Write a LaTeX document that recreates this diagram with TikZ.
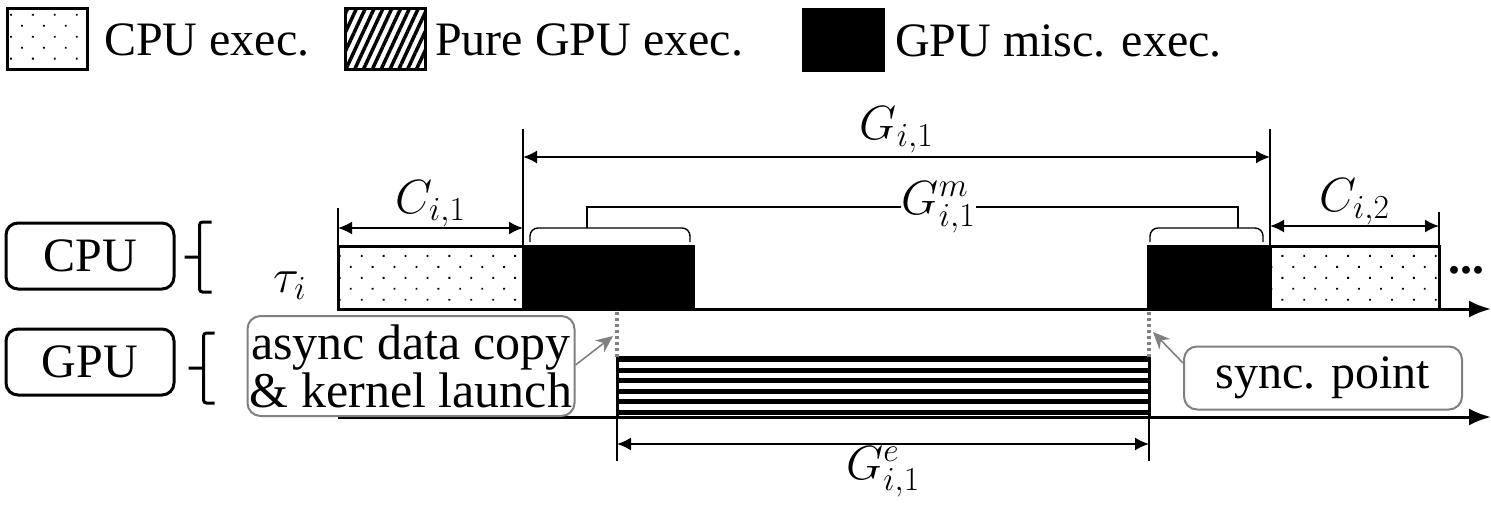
\RequirePackage{fix-cm}
\documentclass[tikz,border=0pt]{standalone}
\usepackage{fontspec}
\setmainfont{Liberation Serif}
\usetikzlibrary{positioning,arrows.meta,patterns.meta}
\newcommand{\bigfont}{\fontsize{48}{48}\selectfont}
\tikzset{
  blk/.style={draw=black, line width=3pt, inner sep=0pt, outer sep=0pt, minimum height=63pt},
  cpublk/.style={blk, pattern={Dots[distance=15.5pt, angle=45, radius=1.3pt]}},
  miscblk/.style={blk, fill=black},
  pureblk/.style={blk, pattern={Lines[angle=65, distance=8pt, line width=3.5pt]}},
  barblk/.style={blk, fill=white},
  lane/.style={draw=black, line width=3pt, rounded corners=12pt, minimum width=168pt,
    minimum height=66pt, inner sep=0pt, font=\bigfont},
  note/.style={draw=gray, line width=2pt, rounded corners=13pt, fill=white, align=center,
    inner sep=0pt},
  legtext/.style={anchor=west, font=\bigfont, inner sep=0pt},
  timeaxis/.style={-{Latex[length=22pt, width=17pt]}, line width=3pt},
  dim/.style={{Latex[length=14pt, width=13pt]}-{Latex[length=14pt, width=13pt]}, line width=1.8pt},
  tick/.style={line width=1.4pt},
  lbrace/.style={line width=3pt, rounded corners=3pt},
  mbrace/.style={line width=1.4pt, rounded corners=8pt},
  syncline/.style={draw=gray, line width=3.5pt, dash pattern=on 3pt off 3pt},
  pointer/.style={-{Stealth[length=17pt, width=15pt]}, draw=gray, line width=1.6pt},
  stripe/.style={line width=5pt},
}
\begin{document}
\begin{tikzpicture}[x=1pt, y=-1pt, font=\bigfont]
  \useasboundingbox (0,0) rectangle (1491,508);
  % legend
  \node[cpublk, minimum width=80pt, minimum height=61pt, anchor=north west] (lgcpu) at (7,9) {};
  \node[legtext, right=17pt of lgcpu] (lgcputxt) {CPU exec.};
  \node[pureblk, minimum width=80pt, minimum height=61pt, anchor=north west] (lgpure) at (345,9) {};
  \node[legtext, right=10pt of lgpure] (lgpuretxt) {Pure GPU exec.};
  \node[miscblk, minimum width=80pt, minimum height=61pt, anchor=north west] (lgmisc) at (803,10) {};
  \node[legtext, right=12pt of lgmisc] (lgmisctxt) {GPU misc. exec.};

  % processors
  \node[lane] (cpu) at (90,256) {CPU};
  \node[lane] (gpu) at (90,362) {GPU};
  \draw[lbrace] (cpu.east) ++(9,1) -- ++(15,0) ++(12,-35) -- ++(-12,0) -- ++(0,70) -- ++(12,0);
  \draw[lbrace] (gpu.east) ++(13,6) -- ++(15,0) ++(11,-35) -- ++(-11,0) -- ++(0,70) -- ++(11,0);
  \node (tau) at (290,286) {$\tau_i$};

  % CPU timeline
  \node[cpublk, minimum width=185pt, anchor=south west] (c1) at (338,309) {};
  \node[miscblk, minimum width=170pt, anchor=south west] (m1) at (c1.south east) {};
  \node[miscblk, minimum width=122pt, anchor=south west] (m2) at (1148,309) {};
  \node[cpublk, minimum width=169pt, anchor=south west] (c2) at (m2.south east) {};
  \node[font=\bfseries\bigfont, inner sep=0pt] (more) at (1466,270) {...};
  \coordinate (cpuend) at (1491,309);
  \draw[timeaxis] (c1.south west) -- (cpuend);

  % GPU timeline
  \node[barblk, minimum width=532pt, minimum height=60pt, anchor=south west] (ge) at (617,417) {};
  \foreach \y in {359.5,370.1,...,414} \draw[stripe] (ge.west |- 0,\y) -- (ge.east |- 0,\y);
  \coordinate (gpustart) at (338,417);
  \coordinate (gpuend) at (1491,417);
  \draw[timeaxis] (gpustart) -- (gpuend);
  \draw[line width=3pt] (ge.south west) -- (ge.north west) -- (ge.north east) -- (ge.south east);

  % sync points
  \draw[syncline] (ge.north west) -- (ge.north west |- c1.south);
  \draw[syncline] (ge.north east) -- (ge.north east |- m2.south);
  \node[note, minimum width=327pt, minimum height=100pt, font=\fontsize{50}{48}\selectfont] (async) at (411,366)
    {async data copy\\\& kernel launch};
  \node[note, minimum width=278pt, minimum height=63pt] (syncpt) at (1323,378) {sync. point};
  \coordinate (asynctip) at (613,336);
  \coordinate (synctip) at (1153,332);
  \draw[pointer] (async.east) ++(0,-1) -- (asynctip);
  \draw[pointer] (syncpt.west) ++(0,-15) -- (synctip);

  % durations
  \draw[tick] (c1.north west) -- ++(0,-38);
  \draw[tick] (c1.north east) -- ++(0,-117);
  \draw[tick] (m2.north east) -- ++(0,-117);
  \draw[tick] (c2.north east) -- ++(0,-34);
  \draw[dim] (c1.north west |- 0,228) -- node[above=-3pt] (lc1) {$C_{i,1}$} (c1.north east |- 0,228);
  \draw[dim] (c2.north west |- 0,226) -- node[above=-3pt] (lc2) {$C_{i,2}$} (c2.north east |- 0,226);
  \draw[dim] (c1.north east |- 0,157) -- node[above=0pt] (lg) {$G_{i,1}$} (m2.north east |- 0,157);

  % misc part
  \draw[mbrace] (m1.north west) ++(7,-4) -- ++(0,-14) -- ++(160,0) -- ++(0,14);
  \draw[mbrace] (m2.north west) ++(2,-4) -- ++(0,-14) -- ++(113,0) -- ++(0,14);
  \coordinate (mtop1) at (587,228);
  \coordinate (mtop2) at (1238,228);
  \draw[tick] (mtop1) -- ++(0,-21) -| node[pos=0.27, fill=white, inner sep=1pt] (lgm) {$G^m_{i,1}$} (mtop2);

  % pure GPU part
  \draw[tick] (ge.south west) -- ++(0,44);
  \draw[tick] (ge.south east) -- ++(0,44);
  \draw[dim] (ge.south west |- 0,444) -- node[below=-2pt] (lge) {$G^e_{i,1}$} (ge.south east |- 0,444);
\end{tikzpicture}
\end{document}
